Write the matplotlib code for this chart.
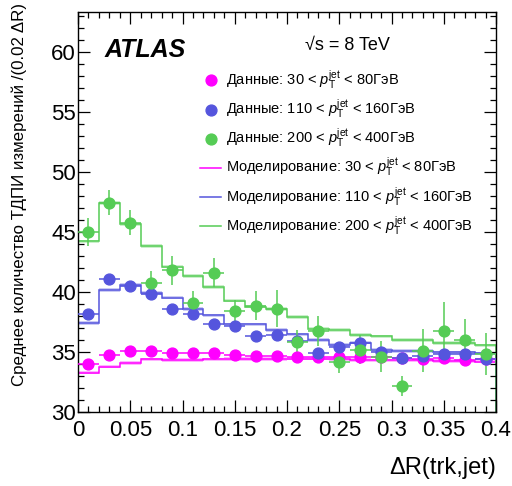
import numpy as np
import matplotlib
matplotlib.use("Agg")
import matplotlib.pyplot as plt
from matplotlib.lines import Line2D
from matplotlib.ticker import MultipleLocator, FuncFormatter

plt.rcParams['font.family'] = ['Liberation Sans', 'DejaVu Sans']
plt.rcParams['mathtext.fontset'] = 'custom'
plt.rcParams['mathtext.rm'] = 'Liberation Sans'
plt.rcParams['mathtext.it'] = 'Liberation Sans:italic'
plt.rcParams['mathtext.bf'] = 'Liberation Sans:bold'

# Binning in dR(trk, jet)
bin_edges = np.round(np.arange(0.0, 0.4001, 0.02), 3)
bin_centers = 0.5 * (bin_edges[:-1] + bin_edges[1:])

# Data: 30 < pT < 80 GeV
data_low = [34.0, 34.75, 35.08, 35.08, 34.94, 34.94, 34.9, 34.75, 34.69, 34.69,
            34.61, 34.61, 34.61, 34.56, 34.56, 34.47, 34.39, 34.47, 34.33, 34.39]
data_low_err = [0.12] * 20
# Data: 110 < pT < 160 GeV
data_mid = [38.14, 41.08, 40.5, 39.8, 38.56, 38.2, 37.3, 37.2, 36.35, 36.4,
            35.9, 34.95, 35.39, 35.78, 35.03, 34.47, 34.67, 34.83, 34.83, 34.45]
data_mid_err = [0.25] * 20
# Data: 200 < pT < 400 GeV
data_high = [45.0, 47.44, 45.78, 40.72, 41.8, 39.1, 41.6, 38.44, 38.86, 38.6,
             35.8, 36.75, 34.17, 35.2, 34.6, 32.17, 35.1, 36.75, 35.97, 34.83]
data_high_err = [1.15, 1.05, 1.05, 1.0, 1.2, 1.0, 1.2, 0.9, 1.2, 1.55,
                 1.05, 1.25, 0.95, 1.2, 1.3, 0.85, 1.8, 2.4, 1.75, 1.75]

# Simulation
mc_low = [33.28, 33.78, 34.06, 34.39, 34.33, 34.33, 34.39, 34.4, 34.4, 34.4,
          34.45, 34.45, 34.4, 34.35, 34.3, 34.3, 34.3, 34.25, 34.25, 34.2]
mc_mid = [37.44, 40.15, 40.58, 39.92, 39.53, 38.56, 38.05, 37.3, 37.3, 36.83,
          36.47, 36.0, 35.58, 35.78, 35.17, 35.1, 35.1, 34.97, 34.97, 34.89]
mc_high = [44.22, 47.39, 45.64, 43.83, 42.11, 41.33, 40.4, 39.28, 38.78, 38.6,
           37.9, 36.94, 36.85, 36.4, 36.3, 36.0, 36.0, 35.75, 35.75, 35.55]
mc_err = 0.15

colors = ['#ff00ff', '#5555dd', '#55cc55']
range_labels = ['30 < $p_{\\mathrm{T}}^{\\mathrm{jet}}$ < 80ГэВ',
                '110 < $p_{\\mathrm{T}}^{\\mathrm{jet}}$ < 160ГэВ',
                '200 < $p_{\\mathrm{T}}^{\\mathrm{jet}}$ < 400ГэВ']

fig = plt.figure(figsize=(5.12, 4.86), dpi=100)
ax = fig.add_axes([78 / 512, 1 - 412 / 486, 418 / 512, 400 / 486])

for mc, col in zip([mc_low, mc_mid, mc_high], colors):
    mc = np.array(mc)
    ax.stairs(mc + mc_err, bin_edges, baseline=mc - mc_err, fill=True,
              color=col, alpha=0.3, lw=0)
    ax.stairs(mc, bin_edges, color=col, lw=1.1)

for d, e, col in zip([data_low, data_mid, data_high],
                     [data_low_err, data_mid_err, data_high_err], colors):
    ax.errorbar(bin_centers, d, yerr=e, xerr=0.01, fmt='o', color=col,
                ms=7.8, elinewidth=1.1, capsize=0, zorder=5)

ax.set_xlim(0, 0.4)
ax.set_ylim(30, 63.33)
ax.xaxis.set_major_locator(MultipleLocator(0.05))
ax.xaxis.set_minor_locator(MultipleLocator(0.01))
ax.yaxis.set_major_locator(MultipleLocator(5))
ax.yaxis.set_minor_locator(MultipleLocator(1))
ax.tick_params(which='both', direction='in', top=True, right=True,
               width=0.9)
ax.tick_params(which='major', length=8.5, labelsize=16)
ax.tick_params(which='minor', length=4.2)
ax.tick_params(axis='x', which='major', pad=5.5)
ax.tick_params(axis='y', which='major', pad=1.5)
ax.xaxis.set_major_formatter(FuncFormatter(lambda v, p: '%g' % round(v, 3)))
for s in ax.spines.values():
    s.set_linewidth(1.0)

ax.set_xlabel('ΔR(trk,jet)', fontsize=17, loc='right', labelpad=12)
ax.set_ylabel('Среднее количество ТДПИ измерений /(0.02 ΔR)', fontsize=12.2,
              loc='top')
ax.yaxis.set_label_coords(-0.123, 1.022)

ax.text(0.063, 0.905, 'ATLAS', transform=ax.transAxes, fontsize=18,
        fontweight='bold', fontstyle='italic', va='center', ha='left')
ax.text(0.542, 0.915, '√s = 8 TeV', transform=ax.transAxes,
        fontsize=13, va='center', ha='left')

handles = []
labels = []
for col, rl in zip(colors, range_labels):
    handles.append(Line2D([], [], marker='o', ls='none', color=col, ms=7.8))
    labels.append('Данные: ' + rl)
for col, rl in zip(colors, range_labels):
    handles.append(Line2D([], [], color=col, lw=1.1))
    labels.append('Моделирование: ' + rl)

ax.legend(handles, labels, loc='upper left', bbox_to_anchor=(0.277, 0.873),
          frameon=False, fontsize=10.5, handlelength=1.5, handletextpad=0.3,
          labelspacing=0.41, borderaxespad=0)

fig.savefig('out.png', dpi=100)
